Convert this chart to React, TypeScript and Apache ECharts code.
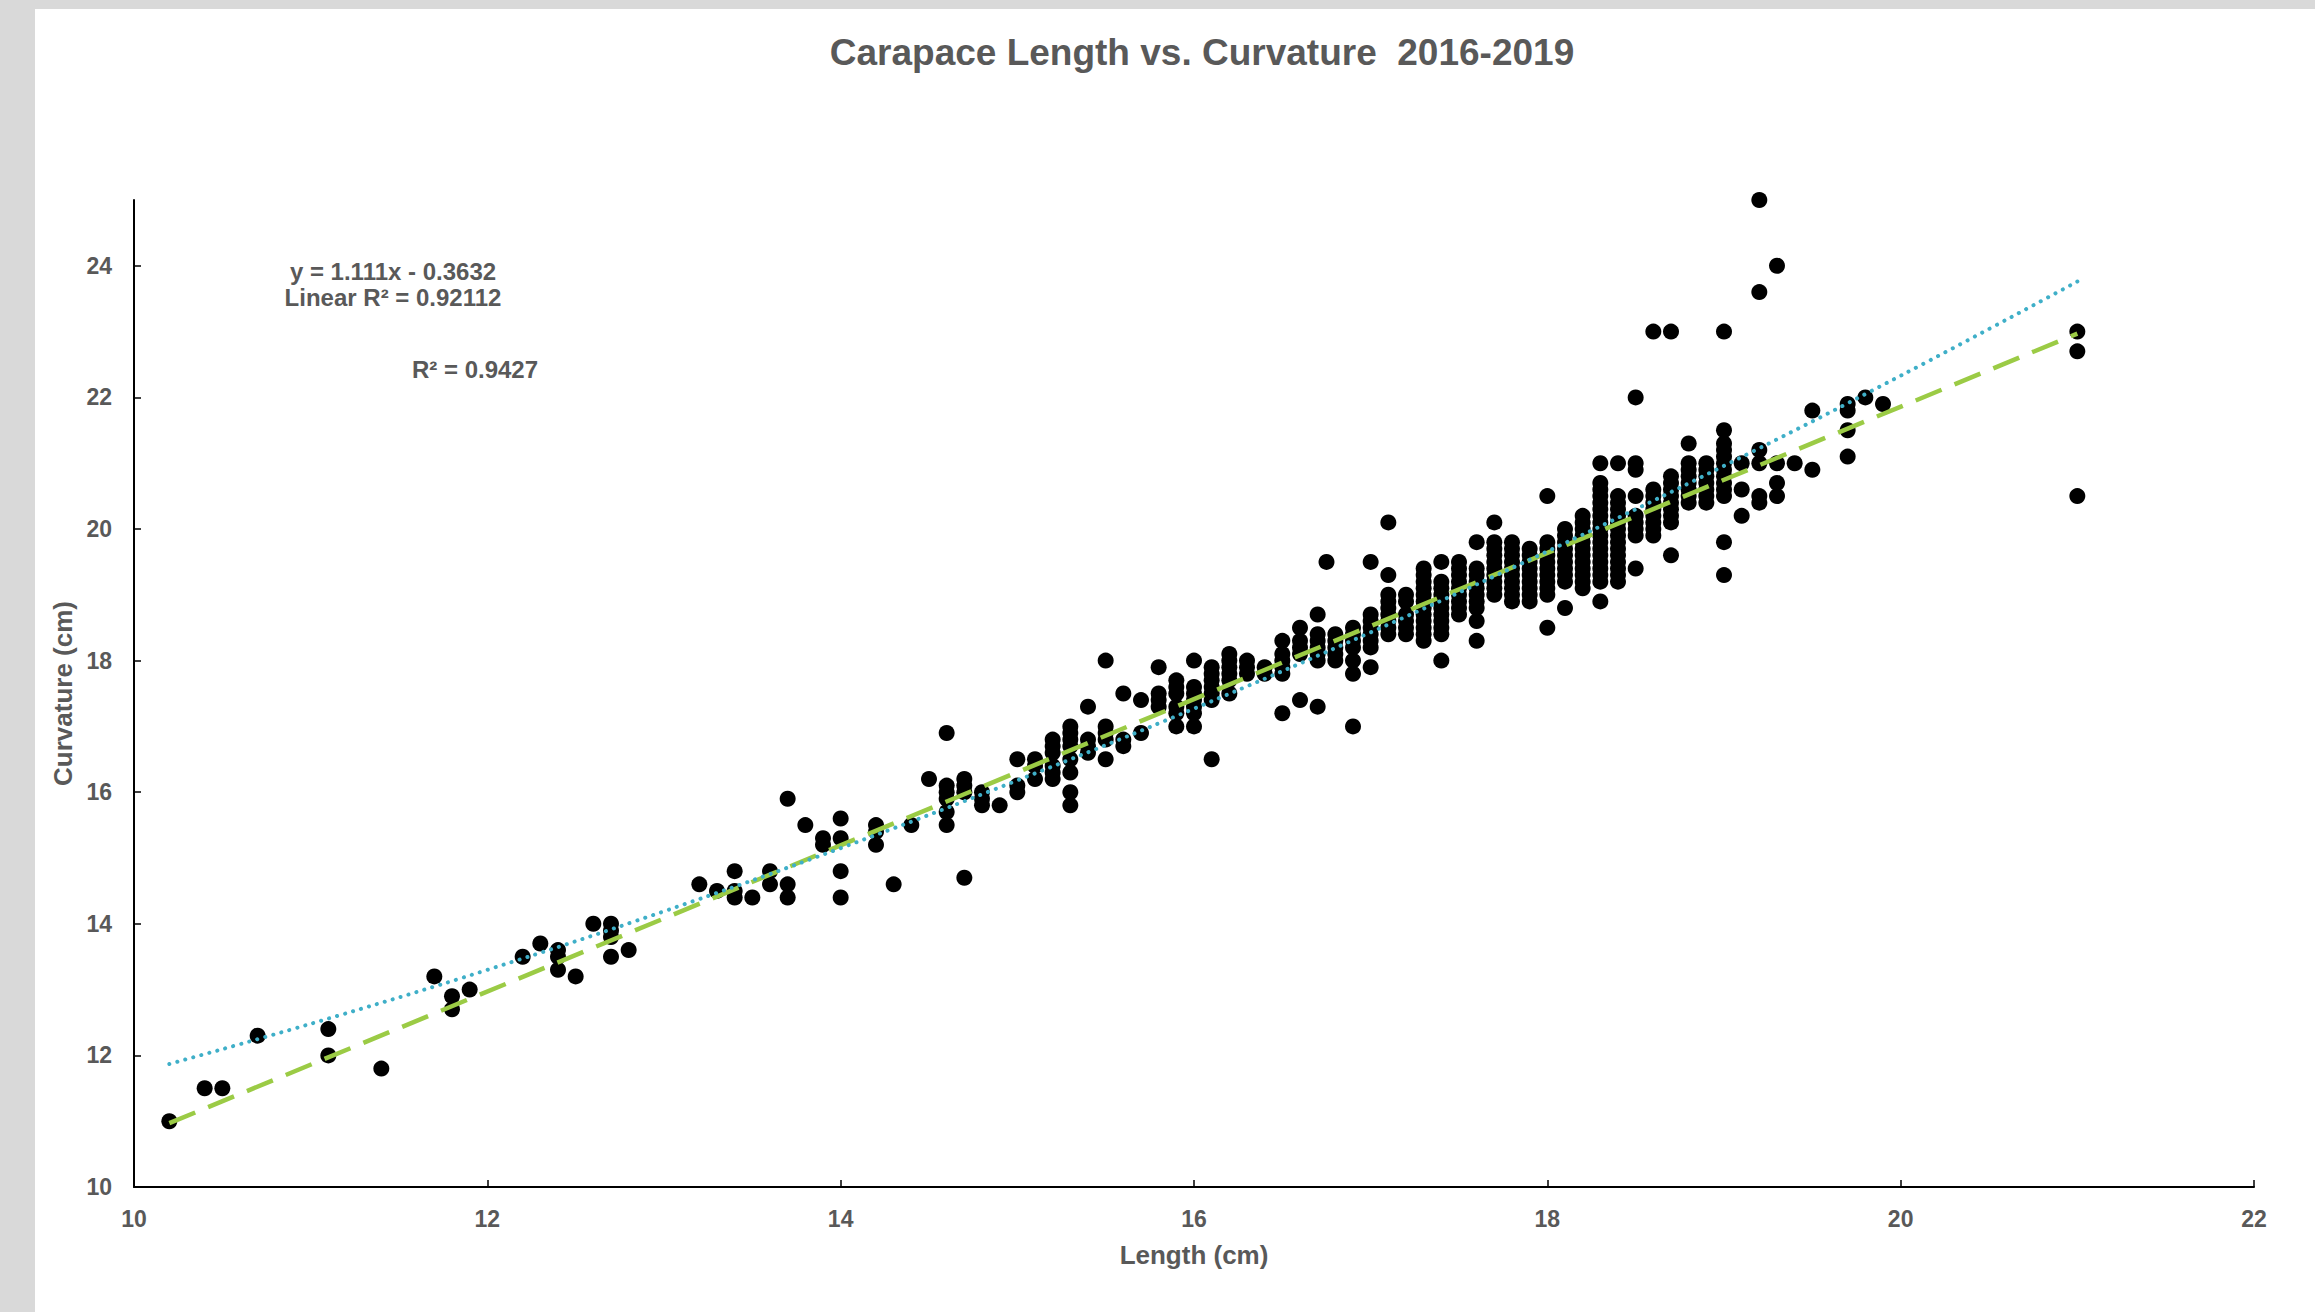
import React, { useEffect, useRef } from "react";
import * as echarts from "echarts";

const FONT = '"Liberation Sans", Arial, sans-serif';
const TEXT_GREY = "#595959";

const titleText = "Carapace Length vs. Curvature  2016-2019";
const xAxisName = "Length (cm)";
const yAxisName = "Curvature (cm)";
const equationLines = ["y = 1.111x - 0.3632", "Linear R\u00b2 = 0.92112"];
const polyR2Text = "R\u00b2 = 0.9427";

// Carapace length (cm) of each group of measurements
const lengths = [
  10.2, 10.4, 10.5, 10.7, 11.1, 11.4, 11.7, 11.8, 11.9, 12.2, 12.3, 12.4, 12.5, 12.6, 12.7, 12.8,
  13.2, 13.3, 13.4, 13.5, 13.6, 13.7, 13.8, 13.9, 14.0, 14.2, 14.3, 14.4, 14.5, 14.6, 14.7, 14.8,
  14.9, 15.0, 15.1, 15.2, 15.3, 15.4, 15.5, 15.6, 15.7, 15.8, 15.9, 16.0, 16.1, 16.2, 16.3, 16.4,
  16.5, 16.6, 16.7, 16.75, 16.8, 16.9, 17.0, 17.1, 17.2, 17.3, 17.4, 17.5, 17.6, 17.7, 17.8, 17.9,
  18.0, 18.1, 18.2, 18.3, 18.4, 18.5, 18.6, 18.7, 18.8, 18.9, 19.0, 19.1, 19.2, 19.3, 19.4, 19.5,
  19.7, 19.8, 19.9, 21.0,
];

// Curvature (cm) values measured at each length above
const curvatures = [
  [11.0], [11.5], [11.5], [12.3], [12.4, 12.0], [11.8], [13.2], [12.9, 12.7], [13.0], [13.5], [13.7],
  [13.6, 13.5, 13.3], [13.2], [14.0], [14.0, 13.9, 13.8, 13.5], [13.6],
  [14.6], [14.5], [14.8, 14.5, 14.4], [14.4], [14.8, 14.6], [15.9, 14.6, 14.4], [15.5], [15.3, 15.2],
  [15.6, 15.3, 14.8, 14.4], [15.5, 15.4, 15.2], [14.6], [15.5], [16.2],
  [16.9, 16.1, 16.0, 15.9, 15.7, 15.5], [16.2, 16.1, 16.0, 14.7], [16.0, 15.9, 15.8],
  [15.8], [16.5, 16.1, 16.0], [16.5, 16.4, 16.2], [16.8, 16.7, 16.6, 16.4, 16.3, 16.2],
  [17.0, 16.9, 16.8, 16.7, 16.5, 16.3, 16.0, 15.8], [17.3, 16.8, 16.7, 16.6],
  [18.0, 17.0, 16.9, 16.8, 16.5], [17.5, 16.8, 16.7], [17.4, 16.9], [17.9, 17.5, 17.4, 17.3],
  [17.7, 17.6, 17.5, 17.3, 17.2, 17.0], [18.0, 17.6, 17.5, 17.4, 17.3, 17.2, 17.0],
  [17.9, 17.8, 17.7, 17.6, 17.5, 17.4, 16.5], [18.1, 18.0, 17.9, 17.8, 17.7, 17.5],
  [18.0, 17.9, 17.8], [17.9, 17.8],
  [18.3, 18.1, 18.0, 17.9, 17.8, 17.2], [18.5, 18.3, 18.2, 18.1, 17.4],
  [18.7, 18.4, 18.3, 18.2, 18.1, 18.0, 17.3], [19.5], [18.4, 18.3, 18.2, 18.1, 18.0],
  [18.5, 18.4, 18.3, 18.2, 18.0, 17.8, 17.0], [19.5, 18.7, 18.6, 18.5, 18.4, 18.3, 18.2, 17.9],
  [20.1, 19.3, 19.0, 18.9, 18.8, 18.7, 18.6, 18.5, 18.4], [19.0, 18.9, 18.7, 18.6, 18.5, 18.4],
  [19.4, 19.3, 19.2, 19.1, 19.0, 18.9, 18.8, 18.7, 18.6, 18.5, 18.4, 18.3],
  [19.5, 19.2, 19.1, 19.0, 18.9, 18.8, 18.7, 18.6, 18.5, 18.4, 18.0],
  [19.5, 19.4, 19.3, 19.2, 19.1, 19.0, 18.9, 18.8, 18.7],
  [19.8, 19.4, 19.3, 19.2, 19.1, 19.0, 18.9, 18.8, 18.6, 18.3],
  [20.1, 19.8, 19.7, 19.6, 19.5, 19.4, 19.3, 19.2, 19.1, 19.0],
  [19.8, 19.7, 19.6, 19.5, 19.4, 19.3, 19.2, 19.1, 19.0, 18.9],
  [19.7, 19.6, 19.5, 19.4, 19.3, 19.2, 19.1, 19.0, 18.9],
  [20.5, 19.8, 19.7, 19.6, 19.5, 19.4, 19.3, 19.2, 19.1, 19.0, 18.5],
  [20.0, 19.9, 19.8, 19.7, 19.6, 19.5, 19.4, 19.3, 19.2, 18.8],
  [20.2, 20.1, 20.0, 19.9, 19.8, 19.7, 19.6, 19.5, 19.4, 19.3, 19.2, 19.1],
  [21.0, 20.7, 20.6, 20.5, 20.4, 20.3, 20.2, 20.1, 20.0, 19.9, 19.8, 19.7, 19.6, 19.5, 19.4, 19.3, 19.2, 18.9],
  [21.0, 20.5, 20.4, 20.3, 20.2, 20.1, 20.0, 19.9, 19.8, 19.7, 19.6, 19.5, 19.4, 19.3, 19.2],
  [22.0, 21.0, 20.9, 20.5, 20.2, 20.1, 20.0, 19.9, 19.4],
  [23.0, 20.6, 20.5, 20.4, 20.3, 20.2, 20.1, 20.0, 19.9],
  [23.0, 20.8, 20.7, 20.6, 20.5, 20.4, 20.3, 20.2, 20.1, 19.6],
  [21.3, 21.0, 20.9, 20.8, 20.7, 20.6, 20.5, 20.4],
  [21.0, 20.9, 20.8, 20.7, 20.6, 20.5, 20.4],
  [23.0, 21.5, 21.3, 21.2, 21.1, 21.0, 20.9, 20.8, 20.7, 20.6, 20.5, 19.8, 19.3],
  [21.0, 20.6, 20.2], [25.0, 23.6, 21.2, 21.0, 20.5, 20.4], [24.0, 21.0, 20.7, 20.5], [21.0],
  [21.8, 20.9], [21.9, 21.8, 21.5, 21.1], [22.0], [21.9], [23.0, 22.7, 20.5],
];

// Linear trendline end points (y = 1.111x - 0.3632)
const linearTrendX = [10.2, 21.0];
const linearTrendY = [10.97, 22.97];

// Polynomial trendline
const polyTrendX = [10.2, 11, 12, 13, 14, 15, 16, 17, 18, 19, 20, 21];
const polyTrendY = [11.87, 12.48, 13.3, 14.19, 15.15, 16.18, 17.27, 18.43, 19.66, 20.96, 22.33, 23.76];

const xMin = 10, xMax = 22, xStep = 2;
const yMin = 10, yMax = 25, yStep = 2;

export default function App() {
  const ref = useRef<HTMLDivElement>(null);

  useEffect(() => {
    if (!ref.current) return;
    const chart = echarts.init(ref.current, null, { renderer: "svg" });

    const points: number[][] = [];
    lengths.forEach((x, i) => curvatures[i].forEach((y) => points.push([x, y])));
    const linData = linearTrendX.map((x, i) => [x, linearTrendY[i]]);
    const polyData = polyTrendX.map((x, i) => [x, polyTrendY[i]]);

    const labelStyle = { fontSize: 23, fontWeight: "bold", color: TEXT_GREY, fontFamily: FONT };
    const nameStyle = { fontSize: 26, fontWeight: "bold", color: TEXT_GREY, fontFamily: FONT };
    const axisLine = { show: true, onZero: false, lineStyle: { color: "#000", width: 2 } };
    const axisTick = { show: true, inside: true, length: 7, lineStyle: { color: "#000", width: 1.5 } };

    const txt = (text: string, x: number, y: number, size: number) => ({
      type: "text",
      x,
      y,
      z: 100,
      style: {
        text,
        fontSize: size,
        fontWeight: "bold",
        fontFamily: FONT,
        fill: TEXT_GREY,
        align: "center",
        verticalAlign: "middle",
        textAlign: "center",
        textVerticalAlign: "middle",
      },
    });

    chart.setOption({
      animation: false,
      backgroundColor: "#ffffff",
      grid: { left: 134, right: 61, top: 200, bottom: 125, containLabel: false },
      xAxis: {
        type: "value",
        min: xMin,
        max: xMax,
        interval: xStep,
        name: xAxisName,
        nameLocation: "middle",
        nameGap: 55,
        nameTextStyle: nameStyle,
        axisLine,
        axisTick,
        axisLabel: { ...labelStyle, margin: 20 },
        splitLine: { show: false },
      },
      yAxis: {
        type: "value",
        min: yMin,
        max: yMax,
        interval: yStep,
        name: yAxisName,
        nameLocation: "middle",
        nameGap: 56,
        nameRotate: 90,
        nameTextStyle: nameStyle,
        axisLine,
        axisTick,
        axisLabel: { ...labelStyle, margin: 22, showMaxLabel: false },
        splitLine: { show: false },
      },
      graphic: [
        { type: "rect", shape: { x: 0, y: 0, width: 2315, height: 9 }, style: { fill: "#d9d9d9" } },
        { type: "rect", shape: { x: 0, y: 0, width: 35, height: 1312 }, style: { fill: "#d9d9d9" } },
        txt(titleText, 1202, 52, 37),
        txt(equationLines[0], 393, 271, 24),
        txt(equationLines[1], 393, 297, 24),
        txt(polyR2Text, 475, 369, 24),
      ],
      series: [
        {
          type: "scatter",
          data: points,
          symbol: "circle",
          symbolSize: 16,
          itemStyle: { color: "#000000", opacity: 1 },
          z: 2,
        },
        {
          type: "line",
          data: linData,
          showSymbol: false,
          symbol: "none",
          lineStyle: { color: "#9BCB45", width: 4.5, type: [28, 14], cap: "butt", opacity: 1 },
          z: 3,
        },
        {
          type: "line",
          data: polyData,
          smooth: 0.4,
          showSymbol: false,
          symbol: "none",
          lineStyle: { color: "#3FAFC8", width: 4, type: [0.1, 8.2], cap: "round", opacity: 1 },
          z: 4,
        },
      ],
    });

    return () => chart.dispose();
  }, []);

  return (
    <div
      ref={ref}
      style={{ position: "fixed", left: 0, top: 0, width: 2315, height: 1312, background: "#fff" }}
    />
  );
}
